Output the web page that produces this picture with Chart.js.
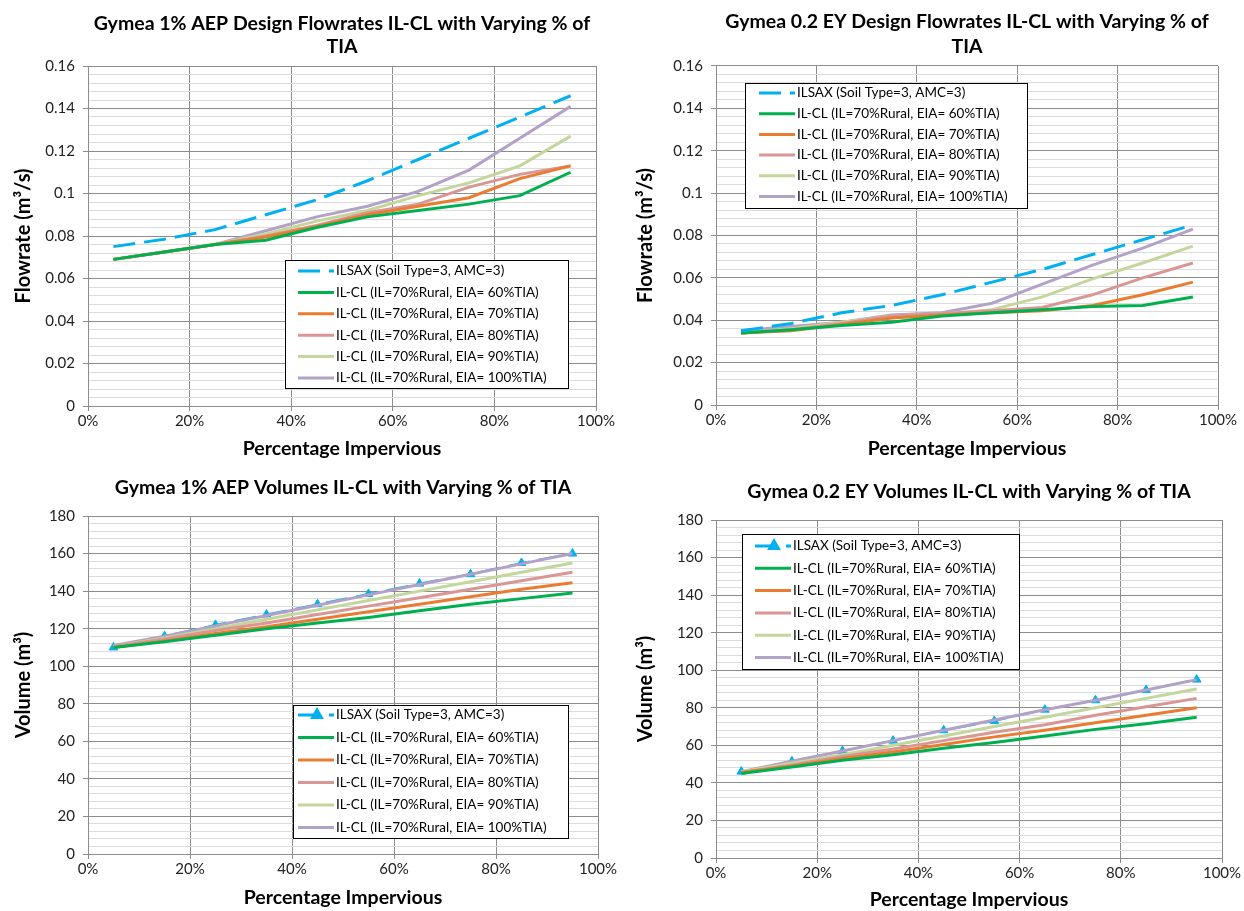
<!DOCTYPE html>
<html>
<head>
<meta charset="utf-8">
<script src="https://cdn.jsdelivr.net/npm/chart.js@4.4.0/dist/chart.umd.min.js"></script>
<style>
  body { margin: 0; background: #fff; }
  #wrap { position: relative; width: 1244px; height: 911px; }
  canvas { position: absolute; }
</style>
</head>
<body>
<div id="wrap">
  <canvas id="c1" width="622" height="460" style="left:0;top:0"></canvas>
  <canvas id="c2" width="622" height="460" style="left:622px;top:0"></canvas>
  <canvas id="c3" width="622" height="451" style="left:0;top:460px"></canvas>
  <canvas id="c4" width="622" height="451" style="left:622px;top:460px"></canvas>
</div>
<script>
// x values (% impervious)
var impervious = [5, 15, 25, 35, 45, 55, 65, 75, 85, 95];

var seriesNames = [
  'ILSAX (Soil Type=3, AMC=3)',
  'IL-CL (IL=70%Rural, EIA= 60%TIA)',
  'IL-CL (IL=70%Rural, EIA= 70%TIA)',
  'IL-CL (IL=70%Rural, EIA= 80%TIA)',
  'IL-CL (IL=70%Rural, EIA= 90%TIA)',
  'IL-CL (IL=70%Rural, EIA= 100%TIA)'
];
var seriesColors = ['#00b0f0', '#00b050', '#e97c30', '#d99694', '#c3d69b', '#b3a2c7'];

// 1% AEP flowrates (m3/s)
var aepFlowIlsax = [0.075, 0.0785, 0.083, 0.090, 0.097, 0.106, 0.116, 0.126, 0.136, 0.146];
var aepFlow60 = [0.069, 0.0725, 0.076, 0.078, 0.084, 0.089, 0.092, 0.095, 0.099, 0.110];
var aepFlow70 = [0.069, 0.0725, 0.076, 0.0795, 0.0845, 0.090, 0.094, 0.098, 0.107, 0.113];
var aepFlow80 = [0.069, 0.0725, 0.076, 0.080, 0.085, 0.091, 0.095, 0.103, 0.109, 0.113];
var aepFlow90 = [0.069, 0.0725, 0.076, 0.081, 0.087, 0.092, 0.099, 0.105, 0.113, 0.127];
var aepFlow100 = [0.069, 0.0725, 0.076, 0.0825, 0.089, 0.094, 0.101, 0.111, 0.126, 0.141];

// 0.2 EY flowrates (m3/s)
var eyFlowIlsax = [0.035, 0.0385, 0.0435, 0.047, 0.052, 0.058, 0.064, 0.071, 0.078, 0.085];
var eyFlow60 = [0.034, 0.0355, 0.0375, 0.039, 0.042, 0.0435, 0.045, 0.0465, 0.047, 0.051];
var eyFlow70 = [0.034, 0.035, 0.038, 0.041, 0.0425, 0.0435, 0.0445, 0.047, 0.052, 0.058];
var eyFlow80 = [0.034, 0.0355, 0.0385, 0.042, 0.043, 0.0445, 0.046, 0.052, 0.060, 0.067];
var eyFlow90 = [0.034, 0.036, 0.039, 0.042, 0.043, 0.045, 0.051, 0.0595, 0.067, 0.075];
var eyFlow100 = [0.035, 0.037, 0.039, 0.0425, 0.0435, 0.048, 0.057, 0.066, 0.074, 0.083];

// 1% AEP volumes (m3)
var aepVolIlsax = [110, 116, 122, 127.5, 133, 138.5, 144, 149, 155, 160];
var aepVol60 = [110, 113, 116.5, 120, 123, 126, 129.5, 133, 136, 139];
var aepVol70 = [110, 113.5, 117.5, 121, 125, 129, 133, 137, 141, 144.5];
var aepVol80 = [110.5, 114.5, 119, 123, 127.5, 132, 136.5, 141, 145.5, 150];
var aepVol90 = [110.5, 115, 120, 125, 130, 135, 140, 145, 150, 155];
var aepVol100 = [111, 116, 121.5, 127, 132.5, 138, 143.5, 149, 154.5, 160];

// 0.2 EY volumes (m3)
var eyVolIlsax = [46, 51.5, 57, 62.5, 68, 73, 79, 84, 89.5, 95];
var eyVol60 = [45, 48.5, 52, 55, 58.5, 61.5, 65, 68.5, 71.5, 75];
var eyVol70 = [45.5, 49, 53, 56.5, 60.5, 64.5, 68, 72, 76, 80];
var eyVol80 = [45.5, 49.5, 54, 58, 62.5, 67, 71, 76, 80.5, 85];
var eyVol90 = [46, 50.5, 55, 60, 65, 70, 75, 80, 85, 90];
var eyVol100 = [46, 51.5, 57, 62.5, 68, 73.5, 79, 84, 89.5, 95];

var FONT = 'Lato, "Open Sans", sans-serif';

// legend box drawn inside the plot area, like the Excel one
var boxLegend = {
  id: 'boxLegend',
  afterDatasetsDraw: function(chart, args, o) {
    var ctx = chart.ctx;
    ctx.save();
    ctx.fillStyle = '#fff';
    ctx.fillRect(o.left, o.top, o.width, o.height);
    ctx.strokeStyle = '#000';
    ctx.lineWidth = 1;
    ctx.strokeRect(o.left + 0.5, o.top + 0.5, o.width, o.height);
    chart.data.datasets.forEach(function(ds, i) {
      var y = o.rowStart + i * o.rowGap;
      ctx.beginPath();
      ctx.setLineDash(ds.borderDash || []);
      ctx.strokeStyle = ds.borderColor;
      ctx.lineWidth = 3;
      ctx.moveTo(o.sampleLeft, y);
      ctx.lineTo(o.sampleLeft + 36, y);
      ctx.stroke();
      ctx.setLineDash([]);
      if (ds.pointStyle === 'triangle') {
        ctx.fillStyle = ds.borderColor;
        Chart.helpers.drawPoint(ctx, { pointStyle: 'triangle', radius: 5, rotation: 0, borderWidth: 1 }, o.sampleLeft + 19, y);
      }
      ctx.fillStyle = '#000';
      ctx.font = '13.5px ' + FONT;
      ctx.textBaseline = 'middle';
      ctx.textAlign = 'left';
      ctx.fillText(ds.label, o.sampleLeft + 38, y);
    });
    ctx.restore();
  }
};

function isMajor(v, step) {
  return Math.round(v / step) % 5 === 0;
}

function makeChart(id, cfg) {
  var datasets = cfg.series.map(function(vals, i) {
    var ds = {
      label: seriesNames[i],
      data: impervious.map(function(x, k) { return { x: x, y: vals[k] }; }),
      borderColor: seriesColors[i],
      backgroundColor: seriesColors[i],
      borderWidth: 3,
      pointRadius: 0,
      tension: 0
    };
    if (i === 0) {
      ds.borderDash = [22, 9];
      if (cfg.markers) {
        ds.pointStyle = 'triangle';
        ds.pointRadius = 5;
        ds.pointBorderWidth = 1;
        ds.borderWidth = 2;
        ds.order = 1;
      }
    }
    return ds;
  });

  var step = cfg.yMajor / 5;   // minor gridline spacing
  var L = cfg.layout;

  return new Chart(document.getElementById(id), {
    type: 'line',
    data: { datasets: datasets },
    plugins: [boxLegend],
    options: {
      responsive: false,
      animation: false,
      devicePixelRatio: 1,
      layout: { padding: { left: 4, right: L.right, top: 0, bottom: 0 } },
      plugins: {
        legend: { display: false },
        tooltip: { enabled: false },
        title: {
          display: true,
          fullSize: false,
          text: cfg.title,
          color: '#000',
          font: { family: FONT, size: 19.5, weight: 'bold', lineHeight: L.titleLine },
          padding: { top: L.titleTop, bottom: L.titleBottom }
        },
        boxLegend: cfg.legend
      },
      scales: {
        x: {
          type: 'linear',
          min: 0,
          max: 100,
          afterFit: function(s) { s.height = L.xHeight; },
          ticks: {
            stepSize: 20,
            padding: 1,
            color: '#222',
            font: { family: FONT, size: 15 },
            callback: function(v) { return v + '%'; }
          },
          grid: { color: '#8c8c8c', tickLength: 5, tickColor: '#8c8c8c' },
          border: { color: '#8c8c8c' },
          title: {
            display: true,
            text: 'Percentage Impervious',
            color: '#000',
            font: { family: FONT, size: 19.5, weight: 'bold' },
            padding: { top: 0, bottom: L.xTitleBottom }
          }
        },
        y: {
          min: 0,
          max: cfg.yMax,
          afterFit: function(s) { s.width = L.yWidth; },
          ticks: {
            stepSize: step,
            autoSkip: false,
            padding: 8,
            color: '#222',
            font: { family: FONT, size: 15 },
            callback: function(v) {
              if (!isMajor(v, step)) return '';
              return cfg.yMax < 1 ? String(+v.toFixed(2)) : String(Math.round(v));
            }
          },
          grid: {
            tickLength: 5,
            color: function(c) { return isMajor(c.tick.value, step) ? '#8c8c8c' : '#dcdcdc'; },
            tickColor: function(c) { return isMajor(c.tick.value, step) ? '#8c8c8c' : 'rgba(0,0,0,0)'; }
          },
          border: { color: '#8c8c8c' },
          title: {
            display: true,
            text: cfg.yTitle,
            color: '#000',
            font: { family: FONT, size: 20, weight: 'bold' },
            padding: 8
          }
        }
      }
    }
  });
}

makeChart('c1', {
  title: ['Gymea 1% AEP Design Flowrates IL-CL with Varying % of', 'TIA'],
  yTitle: 'Flowrate (m³/s)',
  yMax: 0.16,
  yMajor: 0.02,
  series: [aepFlowIlsax, aepFlow60, aepFlow70, aepFlow80, aepFlow90, aepFlow100],
  layout: { right: 26, yWidth: 84, titleTop: 12, titleLine: 1.2, titleBottom: 7.2, xHeight: 54, xTitleBottom: 0 },
  legend: { left: 285, top: 260, width: 283, height: 128, rowStart: 271, rowGap: 21.4, sampleLeft: 298 }
});

makeChart('c2', {
  title: ['Gymea 0.2 EY Design Flowrates IL-CL with Varying % of', 'TIA'],
  yTitle: 'Flowrate (m³/s)',
  yMax: 0.16,
  yMajor: 0.02,
  series: [eyFlowIlsax, eyFlow60, eyFlow70, eyFlow80, eyFlow90, eyFlow100],
  layout: { right: 26, yWidth: 90, titleTop: 9, titleLine: 1.28, titleBottom: 7, xHeight: 55, xTitleBottom: 0 },
  legend: { left: 123, top: 83, width: 282, height: 125, rowStart: 93, rowGap: 20.7, sampleLeft: 137 }
});

makeChart('c3', {
  title: 'Gymea 1% AEP Volumes IL-CL with Varying % of TIA',
  yTitle: 'Volume (m³)',
  yMax: 180,
  yMajor: 20,
  markers: true,
  series: [aepVolIlsax, aepVol60, aepVol70, aepVol80, aepVol90, aepVol100],
  layout: { right: 24, yWidth: 84, titleTop: 16, titleLine: 1.2, titleBottom: 16.6, xHeight: 57, xTitleBottom: 2 },
  legend: { left: 293, top: 245, width: 275, height: 133, rowStart: 255, rowGap: 22.5, sampleLeft: 298 }
});

makeChart('c4', {
  title: 'Gymea 0.2 EY Volumes IL-CL with Varying % of TIA',
  yTitle: 'Volume (m³)',
  yMax: 180,
  yMajor: 20,
  markers: true,
  series: [eyVolIlsax, eyVol60, eyVol70, eyVol80, eyVol90, eyVol100],
  layout: { right: 22, yWidth: 90, titleTop: 20, titleLine: 1.2, titleBottom: 16.6, xHeight: 53, xTitleBottom: 0 },
  legend: { left: 120, top: 74, width: 277, height: 135, rowStart: 86, rowGap: 22.3, sampleLeft: 133 }
});
</script>
</body>
</html>
